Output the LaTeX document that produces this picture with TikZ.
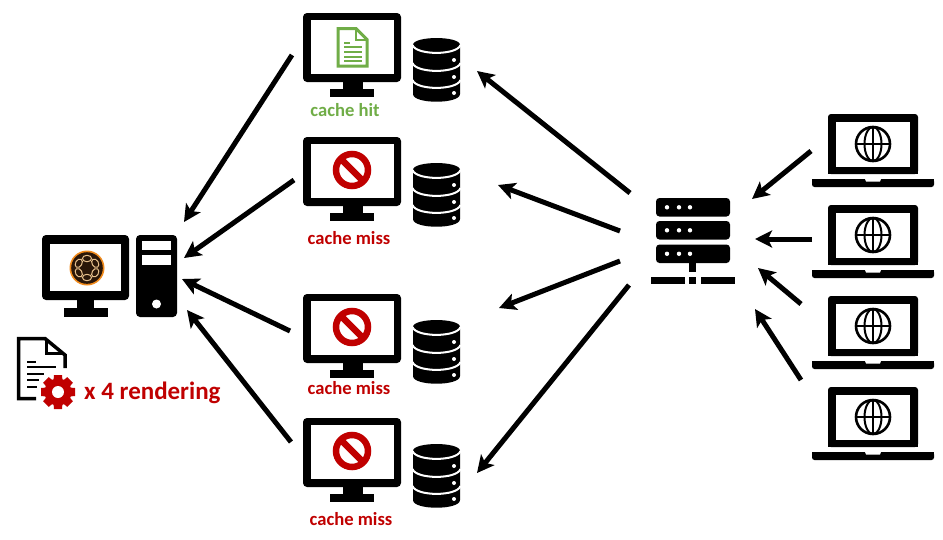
\documentclass[tikz,border=0pt]{standalone}
\usepackage{fontspec}
\setmainfont{Carlito}
\usetikzlibrary{arrows.meta}
\definecolor{missred}{HTML}{C00000}
\definecolor{hitgreen}{HTML}{70AD47}
\definecolor{logodark}{HTML}{2A1608}
\definecolor{logotan}{HTML}{E8C08C}
\definecolor{logoorange}{HTML}{F08A1C}
\tikzset{
  flow/.style={line width=5pt,-{Stealth[length=17pt,width=17pt,inset=4pt]}},
  solidblack/.style={fill=black,draw=none},
  hole/.style={fill=white,draw=none},
  hitlabel/.style={font=\bfseries\fontsize{18.6}{19}\selectfont,text=hitgreen,inner sep=0pt},
  misslabel/.style={font=\bfseries\fontsize{18.6}{19}\selectfont,text=missred,inner sep=0pt},
  renderlabel/.style={font=\bfseries\fontsize{25}{26}\selectfont,text=missred,inner sep=0pt,anchor=west},
  pics/monitor/.style={code={
    \fill[solidblack,rounded corners=4pt] (0,0) rectangle (98,69);
    \fill[hole] (8,7) rectangle (91,61);
    \fill[solidblack] (40,68) rectangle (60,77);
    \fill[solidblack] (27,75.5) rectangle (71,84);
  }},
  pics/nosign/.style={code={
    \draw[missred,line width=6.5pt] (0,0) circle (16);
    \draw[missred,line width=6.5pt] (-11.5,-11.5) -- (11.5,11.5);
  }},
  pics/dbstack/.style={code={
    \fill[solidblack] (0,7) .. controls (0,-2.3) and (47,-2.3) .. (47,7) -- (47,56)
       .. controls (47,66.3) and (0,66.3) .. (0,56) -- cycle;
    \foreach \yy in {7,25,42}{
      \draw[white,line width=2pt] (-0.5,\yy) .. controls (3,{\yy+10.5}) and (44,{\yy+10.5}) .. (47.5,\yy);
    }
    \foreach \yy in {22,39,55}{
      \fill[hole] (41,\yy) circle (2);
    }
  }},
  pics/laptop/.style={code={
    \fill[solidblack,rounded corners=3pt] (0,0) -- (0,60) -- (90,60) -- (90,0) -- cycle;
    \fill[solidblack] (0,55) rectangle (90,60);
    \fill[hole] (8,8) rectangle (82,53);
    \draw[black,line width=2.6pt] (45,30) circle (17);
    \draw[black,line width=2pt] (45,30) ellipse (8.5 and 17);
    \draw[black,line width=2pt] (45,13) -- (45,47) (28,30) -- (62,30);
    \fill[solidblack,rounded corners=2.5pt] (-16,65) -- (-16,73) -- (106,73) -- (106,65) -- cycle;
    \fill[solidblack] (-16,65) rectangle (106,68.5);
    \fill[hole] (37,65) -- (53,65) -- (52,67.5) -- (38,67.5) -- cycle;
  }},
  pics/rackrow/.style={code={
    \fill[solidblack,rounded corners=3.5pt] (0,0) rectangle (74,18.5);
    \foreach \xx in {11,23,34}{
      \fill[hole] (\xx,9.3) circle (2.2);
    }
  }},
}
\begin{document}
\begin{tikzpicture}[x=1pt,y=-1pt]
\useasboundingbox (0,0) rectangle (943,539);
\fill[white] (0,0) rectangle (943,539);

% render workstation
\begin{scope}[shift={(42,235)}]
  \fill[solidblack,rounded corners=4pt] (0,0) rectangle (87,65);
  \fill[hole] (8,9) rectangle (79,56);
  \fill[solidblack] (35,64) rectangle (52,73);
  \fill[solidblack] (22,73) rectangle (66,82);
\end{scope}
\fill[logoorange] (87,268) circle (17.5);
\fill[logodark] (87,268) circle (15.8);
\foreach \ang in {0,60,...,300}{
  \draw[logotan,line width=1pt,rotate around={\ang:(87,268)}] (87,258.5) ellipse (4.6 and 3.2);
}
\fill[solidblack,rounded corners=4pt] (136,235) rectangle (177,317);
\fill[hole] (142,241) rectangle (171,250);
\fill[hole] (142,255) rectangle (171,265);
\fill[hole] (156.5,304) circle (4.5);

% rendered document with gear
\draw[black,line width=3.5pt] (65,368) -- (65,355) -- (45,338.5) -- (18.5,338.5) -- (18.5,398.5) -- (36,398.5);
\draw[black,line width=3pt] (46,339) -- (46,353) -- (64,353);
\foreach \ya/\xb in {362/36,367/56,374/44,380/39,387/37}{
  \draw[black,line width=2.5pt] (27,\ya) -- (\xb,\ya);
}
\fill[white] (58,392) circle (19);
\foreach \ang in {0,45,...,315}{
  \fill[missred,rotate around={\ang:(58,392)}] (52.5,392) -- (54,375) -- (62,375) -- (63.5,392) -- cycle;
}
\fill[missred] (58,392) circle (13.5);
\fill[hole] (58,392) circle (6);
\node[renderlabel] (render) at (84,392.5) {x 4 rendering};

% cache servers
\pic at (303,13) {monitor};
\pic at (303,137) {monitor};
\pic at (303,294) {monitor};
\pic at (303,418) {monitor};
\pic at (413,38) {dbstack};
\pic at (413,163) {dbstack};
\pic at (413,320) {dbstack};
\pic at (413,444) {dbstack};

% green page
\draw[hitgreen,line width=3pt] (338,28.5) -- (356,28.5) -- (367,39.5) -- (367,66) -- (338,66) -- cycle;
\draw[hitgreen,line width=2pt] (355.5,28) -- (355.5,40) -- (367,40);
\draw[hitgreen,line width=2pt] (344,42.5) -- (350,42.5) (344,47) -- (362,47) (344,52) -- (362,52) (344,56.5) -- (362,56.5) (344,60.5) -- (362,60.5);

\pic at (352,170) {nosign};
\pic at (352,327) {nosign};
\pic at (352,451) {nosign};

\node[hitlabel] (hit) at (345,110) {cache hit};
\node[misslabel] (miss1) at (349,238) {cache miss};
\node[misslabel] (miss2) at (349,388) {cache miss};
\node[misslabel] (miss3) at (351,519) {cache miss};

% dispatcher rack
\pic at (656,198) {rackrow};
\pic at (656,221) {rackrow};
\pic at (656,244.5) {rackrow};
\fill[solidblack] (689,262) rectangle (696,272);
\fill[solidblack] (651,277) rectangle (685,284);
\fill[solidblack] (689,277) rectangle (696,284);
\fill[solidblack] (701,277) rectangle (735,284);

% laptops
\pic at (828,114) {laptop};
\pic at (828,205) {laptop};
\pic at (828,296) {laptop};
\pic at (828,387) {laptop};

% connector ends
\coordinate (c1) at (292,55);   \coordinate (w1) at (184,222);
\coordinate (c2) at (294,180);  \coordinate (w2) at (184,258);
\coordinate (c3) at (290,331);  \coordinate (w3) at (182,279);
\coordinate (c4) at (291,442);  \coordinate (w4) at (187,310);
\coordinate (s1) at (630,193);  \coordinate (d1) at (477,71);
\coordinate (s2) at (620,231);  \coordinate (d2) at (498,185);
\coordinate (s3) at (620,261);  \coordinate (d3) at (499,308);
\coordinate (s4) at (629,285);  \coordinate (d4) at (477,473);
\coordinate (l1) at (811,151);  \coordinate (r1) at (752,199);
\coordinate (l2) at (812,239);  \coordinate (r2) at (755,239);
\coordinate (l3) at (801,304);  \coordinate (r3) at (758,268);
\coordinate (l4) at (801,380);  \coordinate (r4) at (755,309);

\foreach \a/\b in {c1/w1,c2/w2,c3/w3,c4/w4,s1/d1,s2/d2,s3/d3,s4/d4,l1/r1,l2/r2,l3/r3,l4/r4}{
  \draw[flow] (\a) -- (\b);
}
\end{tikzpicture}
\end{document}
